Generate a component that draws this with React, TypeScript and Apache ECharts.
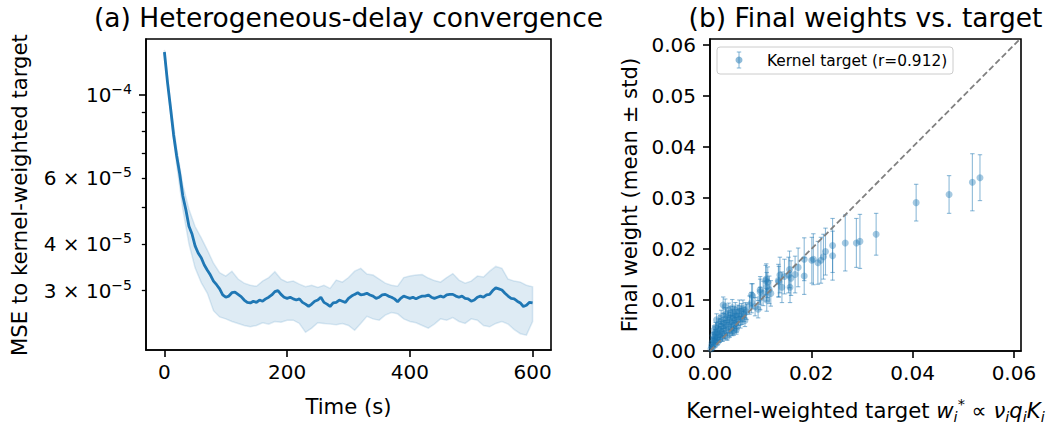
import React, { useEffect, useRef } from "react";
import * as echarts from "echarts";

// ---------- Panel (a): MSE over time (values in units of 1e-5) ----------
const meanTimes = [
  0, 5, 10, 15, 20, 25, 30, 35, 40, 45, 50, 55, 60, 65, 70, 75, 80, 85, 90, 95,
  100, 105, 110, 115, 120, 125, 130, 135, 140, 145, 150, 155, 160, 165, 170, 175, 180, 185, 190, 195,
  200, 205, 210, 215, 220, 225, 230, 235, 240, 245, 250, 255, 260, 265, 270, 275, 280, 285, 290, 295,
  300, 305, 310, 315, 320, 325, 330, 335, 340, 345, 350, 355, 360, 365, 370, 375, 380, 385, 390, 395,
  400, 405, 410, 415, 420, 425, 430, 435, 440, 445, 450, 455, 460, 465, 470, 475, 480, 485, 490, 495,
  500, 505, 510, 515, 520, 525, 530, 535, 540, 545, 550, 555, 560, 565, 570, 575, 580, 585, 590, 595,
  600,
];
const meanMSE = [
  13.03, 10.83, 9.23, 7.82, 6.87, 6.15, 5.37, 4.93, 4.46, 4.25, 3.95, 3.78, 3.67, 3.51, 3.4, 3.3, 3.18, 3.11, 3.03, 2.92,
  2.88, 2.9, 2.96, 2.97, 2.93, 2.89, 2.83, 2.79, 2.78, 2.81, 2.79, 2.83, 2.81, 2.85, 2.88, 2.92, 2.98, 3.0, 2.93, 2.88,
  2.86, 2.88, 2.85, 2.83, 2.85, 2.79, 2.76, 2.72, 2.76, 2.81, 2.83, 2.88, 2.79, 2.76, 2.72, 2.78, 2.79, 2.83, 2.81, 2.79,
  2.86, 2.9, 2.93, 2.96, 2.92, 2.93, 2.95, 2.92, 2.9, 2.86, 2.88, 2.92, 2.93, 2.9, 2.88, 2.85, 2.8, 2.86, 2.9, 2.88,
  2.86, 2.88, 2.85, 2.88, 2.9, 2.9, 2.92, 2.88, 2.86, 2.88, 2.9, 2.88, 2.92, 2.93, 2.93, 2.9, 2.88, 2.9, 2.86, 2.85,
  2.81, 2.83, 2.88, 2.9, 2.88, 2.92, 2.93, 3.0, 3.05, 3.03, 3.01, 2.95, 2.9, 2.86, 2.85, 2.81, 2.78, 2.72, 2.74, 2.79,
  2.78,
];
const bandTimes = [
  0, 10, 20, 30, 40, 50, 60, 70, 80, 90, 100, 110, 120, 130, 140, 150, 160, 170, 180, 190,
  200, 210, 220, 230, 240, 250, 260, 270, 280, 290, 300, 310, 320, 330, 340, 350, 360, 370, 380, 390,
  400, 410, 420, 430, 440, 450, 460, 470, 480, 490, 500, 510, 520, 530, 540, 550, 560, 570, 580, 590,
  600,
];
const bandUpper = [
  13.2, 9.5, 7.2, 5.75, 4.95, 4.45, 4.15, 3.85, 3.55, 3.35, 3.28, 3.38, 3.22, 3.14, 3.1, 3.08, 3.18, 3.25, 3.37, 3.22,
  3.16, 3.18, 3.12, 3.07, 3.1, 3.06, 3.1, 3.04, 3.2, 3.16, 3.25, 3.38, 3.44, 3.32, 3.3, 3.22, 3.14, 3.1, 3.08, 3.25,
  3.28, 3.3, 3.31, 3.24, 3.19, 3.16, 3.25, 3.33, 3.2, 3.14, 3.18, 3.28, 3.26, 3.38, 3.48, 3.44, 3.22, 3.18, 3.16, 3.1,
  3.07,
];
const bandLower = [
  12.9, 8.95, 6.5, 4.95, 4.0, 3.45, 3.15, 2.95, 2.65, 2.55, 2.52, 2.48, 2.45, 2.42, 2.4, 2.42, 2.46, 2.44, 2.48, 2.47,
  2.5, 2.5, 2.45, 2.32, 2.38, 2.46, 2.45, 2.44, 2.43, 2.45, 2.42, 2.35, 2.45, 2.56, 2.52, 2.5, 2.58, 2.62, 2.6, 2.52,
  2.48, 2.46, 2.42, 2.38, 2.44, 2.52, 2.5, 2.54, 2.48, 2.45, 2.52, 2.5, 2.42, 2.4, 2.45, 2.48, 2.44, 2.36, 2.3, 2.28,
  2.48,
];
const leftXTicks = [0, 200, 400, 600];
const leftYLabelTicks = [10, 6, 4, 3]; // x 1e-5
const leftYMajorTicks = [10];
const leftYMinorTicks = [9, 8, 7, 6, 5, 4, 3];

// ---------- Panel (b): final weights vs target ----------
const targetW = [
  0.0002, 0.0003, 0.0004, 0.0005, 0.0006, 0.0006, 0.0007, 0.0008, 0.0008, 0.0009,
  0.001, 0.001, 0.0011, 0.0012, 0.0012, 0.0013, 0.0014, 0.0015, 0.0015, 0.0016,
  0.0017, 0.0018, 0.0019, 0.002, 0.002, 0.0021, 0.0022, 0.0023, 0.0024, 0.0025,
  0.0026, 0.0026, 0.0027, 0.0028, 0.0029, 0.003, 0.003, 0.0031, 0.0032, 0.0033,
  0.0034, 0.0035, 0.0036, 0.0037, 0.0038, 0.0039, 0.004, 0.0041, 0.0042, 0.0043,
  0.0044, 0.0044, 0.0045, 0.0046, 0.0047, 0.0048, 0.0049, 0.005, 0.0051, 0.0052,
  0.0052, 0.0053, 0.0055, 0.0056, 0.0058, 0.0059, 0.006, 0.0062, 0.0063, 0.0065,
  0.0067, 0.0069, 0.007, 0.0072, 0.0078, 0.0082, 0.0082, 0.0084, 0.0089, 0.0095,
  0.0099, 0.0099, 0.0099, 0.0105, 0.011, 0.0111, 0.0112, 0.0112, 0.0114, 0.0117,
  0.012, 0.0135, 0.0136, 0.0138, 0.0142, 0.0147, 0.0155, 0.0157, 0.0158, 0.016,
  0.0174, 0.0168, 0.0186, 0.0186, 0.0201, 0.0204, 0.0213, 0.0219, 0.0224, 0.0228,
  0.0242, 0.0242, 0.0267, 0.0289, 0.0296, 0.0328, 0.0407, 0.0472, 0.0518, 0.0533,
];
const finalW = [
  0.0004, 0.001, 0.0016, 0.0007, 0.0022, 0.003, 0.0013, 0.0041, 0.0019, 0.0026,
  0.0035, 0.0012, 0.0047, 0.0021, 0.003, 0.0061, 0.0038, 0.0017, 0.0026, 0.0044,
  0.0053, 0.0033, 0.0022, 0.0058, 0.004, 0.0029, 0.0067, 0.0048, 0.0036, 0.0025,
  0.009, 0.0055, 0.0043, 0.0062, 0.0031, 0.0087, 0.005, 0.0072, 0.0039, 0.0058,
  0.0028, 0.0067, 0.0046, 0.008, 0.0054, 0.0035, 0.0064, 0.0074, 0.0044, 0.0058,
  0.0085, 0.0038, 0.0068, 0.005, 0.004, 0.0073, 0.0061, 0.008, 0.0055, 0.0068,
  0.0042, 0.0047, 0.0076, 0.0062, 0.0084, 0.007, 0.0056, 0.0078, 0.0065, 0.0084,
  0.0072, 0.006, 0.008, 0.0077, 0.009, 0.0095, 0.011, 0.0108, 0.0087, 0.0082,
  0.0116, 0.0103, 0.012, 0.0113, 0.0138, 0.0141, 0.0126, 0.01, 0.0135, 0.012,
  0.0113, 0.0138, 0.0136, 0.0149, 0.0125, 0.0146, 0.0149, 0.016, 0.0125, 0.0143,
  0.0164, 0.015, 0.018, 0.0147, 0.0178, 0.018, 0.0173, 0.0178, 0.0185, 0.0195,
  0.0207, 0.0187, 0.0212, 0.0212, 0.0215, 0.0229, 0.0291, 0.0307, 0.0331, 0.034,
];
const finalStd = [
  0.0002, 0.0003, 0.0004, 0.0003, 0.0005, 0.0006, 0.0004, 0.0008, 0.0005, 0.0006,
  0.0007, 0.0004, 0.0009, 0.0005, 0.0007, 0.0012, 0.0008, 0.0005, 0.0006, 0.0009,
  0.001, 0.0007, 0.0005, 0.0011, 0.0008, 0.0007, 0.0013, 0.001, 0.0008, 0.0006,
  0.0016, 0.0011, 0.0009, 0.0012, 0.0007, 0.0015, 0.001, 0.0013, 0.0008, 0.0011,
  0.0007, 0.0012, 0.001, 0.0014, 0.0011, 0.0008, 0.0012, 0.0013, 0.0009, 0.0011,
  0.0016, 0.0008, 0.0013, 0.001, 0.0009, 0.0014, 0.0012, 0.0015, 0.0011, 0.0013,
  0.0009, 0.001, 0.0014, 0.0012, 0.0016, 0.0013, 0.0011, 0.0015, 0.0013, 0.0016,
  0.0014, 0.0012, 0.0015, 0.0015, 0.0018, 0.002, 0.0022, 0.0024, 0.0018, 0.0017,
  0.0025, 0.0022, 0.0026, 0.0024, 0.003, 0.003, 0.0028, 0.0022, 0.003, 0.0027,
  0.0025, 0.0032, 0.003, 0.0035, 0.003, 0.0034, 0.0035, 0.0036, 0.003, 0.0034,
  0.0038, 0.0036, 0.0042, 0.0036, 0.0045, 0.005, 0.0042, 0.0045, 0.0044, 0.0046,
  0.0053, 0.0048, 0.0055, 0.0048, 0.0053, 0.0041, 0.0036, 0.0037, 0.0056, 0.0045,
];
const rightXTicks = [0, 0.02, 0.04, 0.06];
const rightYTicks = [0, 0.01, 0.02, 0.03, 0.04, 0.05, 0.06];
const diagonal = [0, 0.0614];
const legendLabel = "Kernel target (r=0.912)";

const FONT = "DejaVu Sans";
const BLUE = "#1f77b4";
const TICK_FS = 20;
const LABEL_FS = 21.2;
const TITLE_FS = 26.5;

export default function App() {
  const ref = useRef<HTMLDivElement>(null);

  useEffect(() => {
    if (!ref.current) return;
    const chart = echarts.init(ref.current, undefined, { renderer: "svg" });
    const lg = (v: number) => Math.log10(v);

    const axisLine = { show: true, onZero: false, lineStyle: { color: "#000", width: 1.6 } };
    const majorTick = (vals: number[]) => ({
      show: true,
      customValues: vals,
      length: 7,
      lineStyle: { color: "#000", width: 1.6 },
    });
    const tickLabel = (vals: number[], fmt: (v: number) => string, margin: number) => ({
      show: true,
      customValues: vals,
      formatter: fmt,
      margin,
      color: "#000",
      fontFamily: FONT,
      fontSize: TICK_FS,
    });

    const yMin = 0.3182;
    const yMax = 1.1497;
    const centered = { align: "center", verticalAlign: "middle", textAlign: "center", textVerticalAlign: "middle" };

    const option: any = {
      animation: false,
      grid: [
        { left: 146, top: 39, width: 405, height: 311, show: true, borderColor: "#000", borderWidth: 1.6, backgroundColor: "transparent" },
        { left: 710, top: 39, width: 311, height: 312, show: true, borderColor: "#000", borderWidth: 1.6, backgroundColor: "transparent" },
      ],
      xAxis: [
        {
          type: "value", gridIndex: 0, min: -30, max: 630,
          axisLine, splitLine: { show: false },
          axisTick: majorTick(leftXTicks),
          axisLabel: tickLabel(leftXTicks, (v: number) => String(Math.round(v)), 12),
        },
        {
          type: "value", gridIndex: 1, min: 0, max: 0.0614,
          axisLine, splitLine: { show: false },
          axisTick: majorTick(rightXTicks),
          axisLabel: tickLabel(rightXTicks, (v: number) => v.toFixed(2), 12),
        },
      ],
      yAxis: [
        {
          type: "value", gridIndex: 0, min: yMin, max: yMax, position: "left",
          axisLine, splitLine: { show: false },
          axisTick: majorTick(leftYMajorTicks.map(lg)),
          axisLabel: {
            ...tickLabel(leftYLabelTicks.map(lg), (v: number) => {
              const m = Math.round(Math.pow(10, v));
              if (m === 10) return "{b|10}{e|\u22124}";
              return "{b|" + m + " \u00d7 10}{e|\u22125}";
            }, 14),
            rich: {
              b: { fontFamily: FONT, fontSize: TICK_FS, lineHeight: 26, color: "#000" },
              e: { fontFamily: FONT, fontSize: 14, lineHeight: 14, verticalAlign: "top", color: "#000" },
            },
          },
        },
        {
          type: "value", gridIndex: 0, min: yMin, max: yMax, position: "left", offset: 0,
          axisLine: { show: false, onZero: false }, splitLine: { show: false },
          axisLabel: { show: false },
          axisTick: { show: true, customValues: leftYMinorTicks.map(lg), length: 4.2, lineStyle: { color: "#000", width: 1.3 } },
        },
        {
          type: "value", gridIndex: 1, min: 0, max: 0.0612,
          axisLine, splitLine: { show: false },
          axisTick: majorTick(rightYTicks),
          axisLabel: tickLabel(rightYTicks, (v: number) => v.toFixed(2), 14),
        },
      ],
      series: [
        {
          type: "custom", xAxisIndex: 0, yAxisIndex: 0, clip: true, silent: true,
          data: [[0, lg(bandLower[0])]],
          renderItem: (_p: any, api: any) => {
            const up = bandTimes.map((t, i) => api.coord([t, lg(bandUpper[i])]));
            const lo = bandTimes.map((t, i) => api.coord([t, lg(bandLower[i])])).reverse();
            return {
              type: "polygon",
              shape: { points: up.concat(lo) },
              style: { fill: "rgba(31,119,180,0.15)", stroke: "rgba(31,119,180,0.15)", lineWidth: 1.5 },
            };
          },
        },
        {
          type: "line", xAxisIndex: 0, yAxisIndex: 0, showSymbol: false, silent: true,
          data: meanTimes.map((t, i) => [t, lg(meanMSE[i])]),
          lineStyle: { color: BLUE, width: 2.8 },
        },
        {
          type: "custom", xAxisIndex: 1, yAxisIndex: 2, clip: true, silent: true,
          data: targetW.map((x, i) => [x, finalW[i], finalStd[i]]),
          renderItem: (_p: any, api: any) => {
            const x = api.value(0), y = api.value(1), s = api.value(2);
            const top = api.coord([x, y + s]);
            const bot = api.coord([x, y - s]);
            const c = 2.2;
            const style = { stroke: "rgba(31,119,180,0.5)", lineWidth: 1.1, fill: "none" };
            return {
              type: "group",
              children: [
                { type: "line", shape: { x1: top[0], y1: top[1], x2: bot[0], y2: bot[1] }, style },
                { type: "line", shape: { x1: top[0] - c, y1: top[1], x2: top[0] + c, y2: top[1] }, style },
                { type: "line", shape: { x1: bot[0] - c, y1: bot[1], x2: bot[0] + c, y2: bot[1] }, style },
              ],
            };
          },
        },
        {
          type: "scatter", xAxisIndex: 1, yAxisIndex: 2, symbolSize: 7, silent: true,
          data: targetW.map((x, i) => [x, finalW[i]]),
          itemStyle: { color: "rgba(31,119,180,0.5)" },
        },
        {
          type: "line", xAxisIndex: 1, yAxisIndex: 2, showSymbol: false, silent: true,
          data: diagonal.map((d) => [d, d]),
          lineStyle: { color: "#808080", width: 1.8, type: [6, 3] },
        },
      ],
      graphic: [
        { type: "text", x: 348.5, y: 17, style: { text: "(a) Heterogeneous-delay convergence", fontFamily: FONT, fontSize: TITLE_FS, fill: "#000", ...centered } },
        { type: "text", x: 865.5, y: 17, style: { text: "(b) Final weights vs. target", fontFamily: FONT, fontSize: TITLE_FS, fill: "#000", ...centered } },
        { type: "text", x: 348.5, y: 406, style: { text: "Time (s)", fontFamily: FONT, fontSize: LABEL_FS, fill: "#000", ...centered } },
        { type: "text", x: 19, y: 195, rotation: Math.PI / 2, style: { text: "MSE to kernel-weighted target", fontFamily: FONT, fontSize: LABEL_FS, fill: "#000", ...centered } },
        { type: "text", x: 629, y: 195, rotation: Math.PI / 2, style: { text: "Final weight (mean \u00b1 std)", fontFamily: FONT, fontSize: LABEL_FS, fill: "#000", ...centered } },
        {
          type: "text", x: 865.5, y: 410,
          style: {
            text: "Kernel-weighted target {it|w}{sub|i}{sup|*} \u221d {it|\u03bd}{sub|i}{it|q}{sub|i}{it|K}{sub|i}",
            fontFamily: FONT, fontSize: LABEL_FS, lineHeight: 28, fill: "#000",
            ...centered,
            rich: {
              it: { fontFamily: FONT, fontSize: LABEL_FS, fontStyle: "italic", lineHeight: 28, fill: "#000" },
              sub: { fontFamily: FONT, fontSize: 14.5, fontStyle: "italic", lineHeight: 14, verticalAlign: "bottom", fill: "#000" },
              sup: { fontFamily: FONT, fontSize: 14.5, lineHeight: 14, verticalAlign: "top", fill: "#000" },
            },
          },
        },
        // legend
        { type: "rect", shape: { x: 717, y: 47, width: 236, height: 27, r: 3 }, style: { fill: "rgba(255,255,255,0.8)", stroke: "#cccccc", lineWidth: 1 } },
        { type: "line", shape: { x1: 739, y1: 52, x2: 739, y2: 68 }, style: { stroke: "rgba(31,119,180,0.5)", lineWidth: 1.1 } },
        { type: "line", shape: { x1: 736.8, y1: 52, x2: 741.2, y2: 52 }, style: { stroke: "rgba(31,119,180,0.5)", lineWidth: 1.1 } },
        { type: "line", shape: { x1: 736.8, y1: 68, x2: 741.2, y2: 68 }, style: { stroke: "rgba(31,119,180,0.5)", lineWidth: 1.1 } },
        { type: "circle", shape: { cx: 739, cy: 60, r: 3.5 }, style: { fill: "rgba(31,119,180,0.5)" } },
        { type: "text", x: 767, y: 60.5, style: { text: legendLabel, fontFamily: FONT, fontSize: 15.4, fill: "#000", align: "left", verticalAlign: "middle", textAlign: "left", textVerticalAlign: "middle" } },
      ],
    };

    chart.setOption(option);
    return () => chart.dispose();
  }, []);

  return (
    <div
      ref={ref}
      style={{ position: "absolute", left: 0, top: 0, width: 1058, height: 425, background: "#fff" }}
    />
  );
}
